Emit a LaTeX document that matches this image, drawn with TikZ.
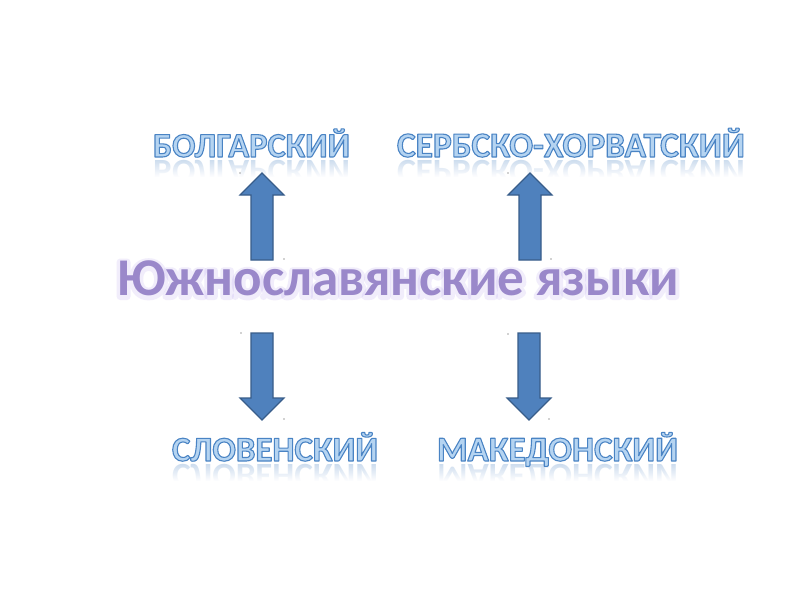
\documentclass[tikz,border=0pt]{standalone}
\usepackage{fontspec}
\setmainfont{Carlito}
\usetikzlibrary{fadings}
\definecolor{arrowfill}{HTML}{4F81BD}
\definecolor{arrowline}{HTML}{385D8A}
\definecolor{lblfill}{HTML}{B5D4F1}
\definecolor{lblline}{HTML}{4A84C4}
\definecolor{maintext}{HTML}{9A88CA}
\definecolor{mainglow}{HTML}{B9A6EE}
\newlength\natw
% #1 target width (number, pt), #2 text: font size chosen so that the text is #1 wide
\newcommand{\fitfont}[2]{\settowidth{\natw}{\fontsize{10pt}{12pt}\bfseries #2}%
  \pgfmathsetmacro\fsz{10*#1/\natw}\fontsize{\fsz pt}{\fsz pt}\bfseries\selectfont}
\newcommand{\outlined}[2]{{\fitfont{#1}{#2}%
  \special{pdf:literal direct 0.290 0.518 0.769 RG 2 Tr 1.1 w 1 j}#2\special{pdf:literal direct 0 Tr}}}
\newcommand{\glowed}[2]{{\fitfont{#1}{#2}%
  \special{pdf:literal direct 1 Tr 7 w 1 j 1 J}#2\special{pdf:literal direct 0 Tr}}}
\newcommand{\plainfit}[2]{{\fitfont{#1}{#2}#2}}
% #1 name, #2 x, #3 baseline y, #4 width, #5 text
\newcommand{\wordlabel}[5]{%
  \node[reflect] (#1-r) at (#2,#3+3) {\scalebox{1}[-1]{\plainfit{#4}{#5}}};
  \fill[white,path fading=north] (#2-5,#3+1) rectangle (#2+#4+5,#3+20);
  \fill[white] (#2-5,#3+20) rectangle (#2+#4+5,#3+45);
}
\newcommand{\wordface}[5]{%
  \node[lblface] (#1) at (#2,#3) {\outlined{#4}{#5}};
}
\begin{document}
\begin{tikzpicture}[x=1pt,y=-1pt,
  lbltext/.style={anchor=base west,inner sep=0pt,outer sep=0pt},
  reflect/.style={lbltext,text=lblline,opacity=0.3},
  lblface/.style={lbltext,text=lblfill},
  glowtext/.style={lbltext,text=mainglow,opacity=0.2},
  maintitle/.style={lbltext,text=maintext},
  blockarrow/.style={fill=arrowfill,draw=arrowline,line width=1.1pt,line join=miter},
  handle/.style={fill=black!75}]
\useasboundingbox (0,0) rectangle (800,600);
\fill[white] (0,0) rectangle (800,600);

% reflections
\wordlabel{bolg}{153}{157}{197}{БОЛГАРСКИЙ}
\wordlabel{serb}{397}{157}{348}{СЕРБСКО-ХОРВАТСКИЙ}
\wordlabel{slov}{172}{461}{206}{СЛОВЕНСКИЙ}
\wordlabel{maked}{437}{461}{241}{МАКЕДОНСКИЙ}

% central title with soft glow
\node[glowtext] (glow) at (117,296.5) {\glowed{562}{Южнославянские языки}};
\node[maintitle] (title) at (117,295) {\plainfit{562}{Южнославянские языки}};

% arrows from the title to the four languages
\draw[blockarrow] (251,260) -- (251,195) -- (240,195) -- (262,173) -- (284,195) -- (273,195) -- (273,260) -- cycle;
\draw[blockarrow] (519,260) -- (519,195) -- (508,195) -- (530,173) -- (552,195) -- (541,195) -- (541,260) -- cycle;
\draw[blockarrow] (251,333) -- (251,398) -- (240,398) -- (262,420) -- (284,398) -- (273,398) -- (273,333) -- cycle;
\draw[blockarrow] (518,333) -- (518,398) -- (507,398) -- (529,420) -- (551,398) -- (540,398) -- (540,333) -- cycle;

% selection handles
\foreach \x/\y in {240/173,284/259,508/173,551/259,241/333,284/419,508/334,549/419}
  \fill[handle] (\x,\y) circle (0.7);

% label faces
\wordface{bolg}{153}{157}{197}{БОЛГАРСКИЙ}
\wordface{serb}{397}{157}{348}{СЕРБСКО-ХОРВАТСКИЙ}
\wordface{slov}{172}{461}{206}{СЛОВЕНСКИЙ}
\wordface{maked}{437}{461}{241}{МАКЕДОНСКИЙ}
\end{tikzpicture}
\end{document}
